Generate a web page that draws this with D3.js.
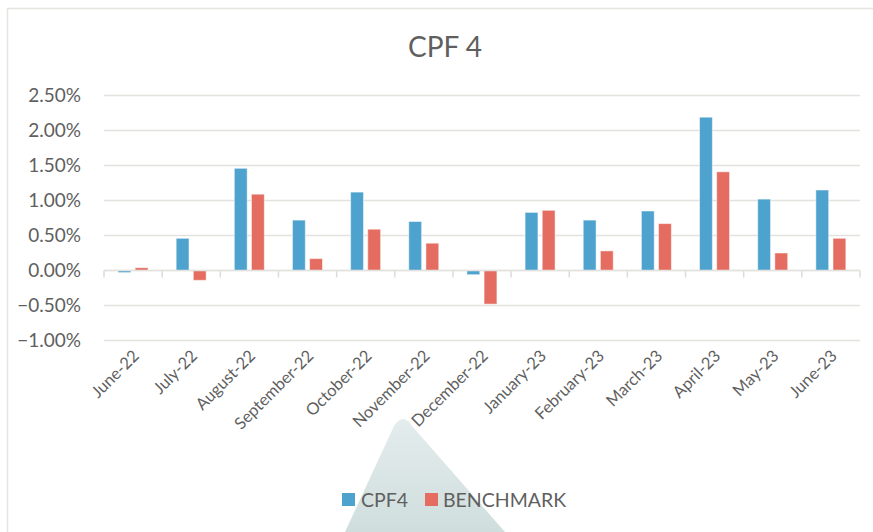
<!DOCTYPE html>
<html>
<head>
<meta charset="utf-8">
<script src="https://cdn.jsdelivr.net/npm/d3@7"></script>
<style>
    html, body { margin: 0; padding: 0; background: #fff; }
    #chart { width: 873px; height: 532px; }
    text { font-family: Lato, "Open Sans", sans-serif; fill: #5f5f5f; }
</style>
</head>
<body>
<div id="chart"></div>
<script>
// Monthly returns, CPF4 vs benchmark
const months = ['June-22', 'July-22', 'August-22', 'September-22', 'October-22', 'November-22',
    'December-22', 'January-23', 'February-23', 'March-23', 'April-23', 'May-23', 'June-23'];
const cpf4 = [-0.0003, 0.0046, 0.0146, 0.0072, 0.0112, 0.0070, -0.0006, 0.0083, 0.0072, 0.0085, 0.0219, 0.0102, 0.0115];
const benchmark = [0.0004, -0.0014, 0.0109, 0.0017, 0.0059, 0.0039, -0.0048, 0.0086, 0.0028, 0.0067, 0.0141, 0.0025, 0.0046];
const seriesNames = ['CPF4', 'BENCHMARK'];
const yTicks = [-0.01, -0.005, 0, 0.005, 0.01, 0.015, 0.02, 0.025];

const width = 873;
const height = 532;

const svg = d3.select('#chart')
    .append('svg')
    .attr('width', width)
    .attr('height', height);

const colorScale = d3.scaleOrdinal()
    .domain(seriesNames)
    .range(['#4ea2ce', '#e46c60']);

// Chart frame
svg.append('path')
    .attr('d', 'M7.5,532 V8.5 H873')
    .attr('fill', 'none')
    .attr('stroke', '#e6e4e0')
    .attr('stroke-width', 1.5);

// Faint watermark behind the chart
const grad = svg.append('defs').append('linearGradient')
    .attr('id', 'wm')
    .attr('x1', 0).attr('y1', 0).attr('x2', 0).attr('y2', 1);
grad.append('stop').attr('offset', '0%').attr('stop-color', '#e4ecec');
grad.append('stop').attr('offset', '100%').attr('stop-color', '#cfdedd');

svg.append('path')
    .attr('d', 'M345,532 L394,426 Q403,412 412,426 L505,532 Z')
    .attr('fill', 'url(#wm)');

// Title
svg.append('text')
    .attr('x', 445)
    .attr('y', 57)
    .attr('text-anchor', 'middle')
    .attr('font-size', 28)
    .text('CPF 4');

// Scales
const x0 = d3.scaleBand()
    .domain(months)
    .range([104, 860]);

const x1 = d3.scaleBand()
    .domain(seriesNames)
    .range([14, 44])
    .paddingInner(0.25);

const y = d3.scaleLinear()
    .domain([-0.01, 0.025])
    .range([340.5, 95.5]);

// Grid lines
svg.append('g')
    .selectAll('line')
    .data(yTicks)
    .join('line')
    .attr('x1', 104)
    .attr('x2', 860)
    .attr('y1', d => y(d))
    .attr('y2', d => y(d))
    .attr('stroke', '#e3e2de')
    .attr('stroke-width', 1.5);

// Y axis labels
svg.append('g')
    .selectAll('text')
    .data(yTicks)
    .join('text')
    .attr('x', 81)
    .attr('y', d => y(d))
    .attr('dy', '0.36em')
    .attr('text-anchor', 'end')
    .attr('font-size', 19)
    .text(d => d3.format('.2%')(d));

// Category tick marks on the zero line
svg.append('g')
    .selectAll('line')
    .data(months.concat(['end']))
    .join('line')
    .attr('x1', (d, i) => 104 + i * x0.step())
    .attr('x2', (d, i) => 104 + i * x0.step())
    .attr('y1', y(0))
    .attr('y2', y(0) + 7)
    .attr('stroke', '#dcdcd8')
    .attr('stroke-width', 1.5);

// Bars
const rows = months.map((m, i) => ({ month: m, values: [cpf4[i], benchmark[i]] }));

const groups = svg.append('g')
    .selectAll('g')
    .data(rows)
    .join('g')
    .attr('transform', d => `translate(${x0(d.month)},0)`);

groups.selectAll('rect')
    .data(d => d.values.map((v, k) => ({ key: seriesNames[k], value: v })))
    .join('rect')
    .attr('x', d => x1(d.key))
    .attr('width', x1.bandwidth())
    .attr('y', d => y(Math.max(0, d.value)))
    .attr('height', d => Math.abs(y(d.value) - y(0)))
    .attr('fill', d => colorScale(d.key))
    .attr('stroke', '#fff')
    .attr('stroke-opacity', 0.5)
    .attr('stroke-width', 1);

// Zero line over bars
svg.append('line')
    .attr('x1', 104)
    .attr('x2', 860)
    .attr('y1', y(0))
    .attr('y2', y(0))
    .attr('stroke', '#e3e2de')
    .attr('stroke-width', 1.5);

// Rotated month labels
svg.append('g')
    .selectAll('text')
    .data(months)
    .join('text')
    .attr('transform', d => `translate(${x0(d) + x0.bandwidth() / 2 + 7},357) rotate(-45)`)
    .attr('text-anchor', 'end')
    .attr('font-size', 16.5)
    .text(d => d);

// Legend
const legend = svg.append('g')
    .attr('transform', 'translate(342, 493)');

legend.append('rect')
    .attr('x', 0).attr('y', 0)
    .attr('width', 13).attr('height', 13)
    .attr('fill', colorScale('CPF4'));

legend.append('text')
    .attr('x', 19).attr('y', 13.5)
    .attr('font-size', 19.5)
    .text('CPF4');

legend.append('rect')
    .attr('x', 83).attr('y', 0)
    .attr('width', 13).attr('height', 13)
    .attr('fill', colorScale('BENCHMARK'));

legend.append('text')
    .attr('x', 101).attr('y', 13.5)
    .attr('font-size', 19.5)
    .text('BENCHMARK');
</script>
</body>
</html>
